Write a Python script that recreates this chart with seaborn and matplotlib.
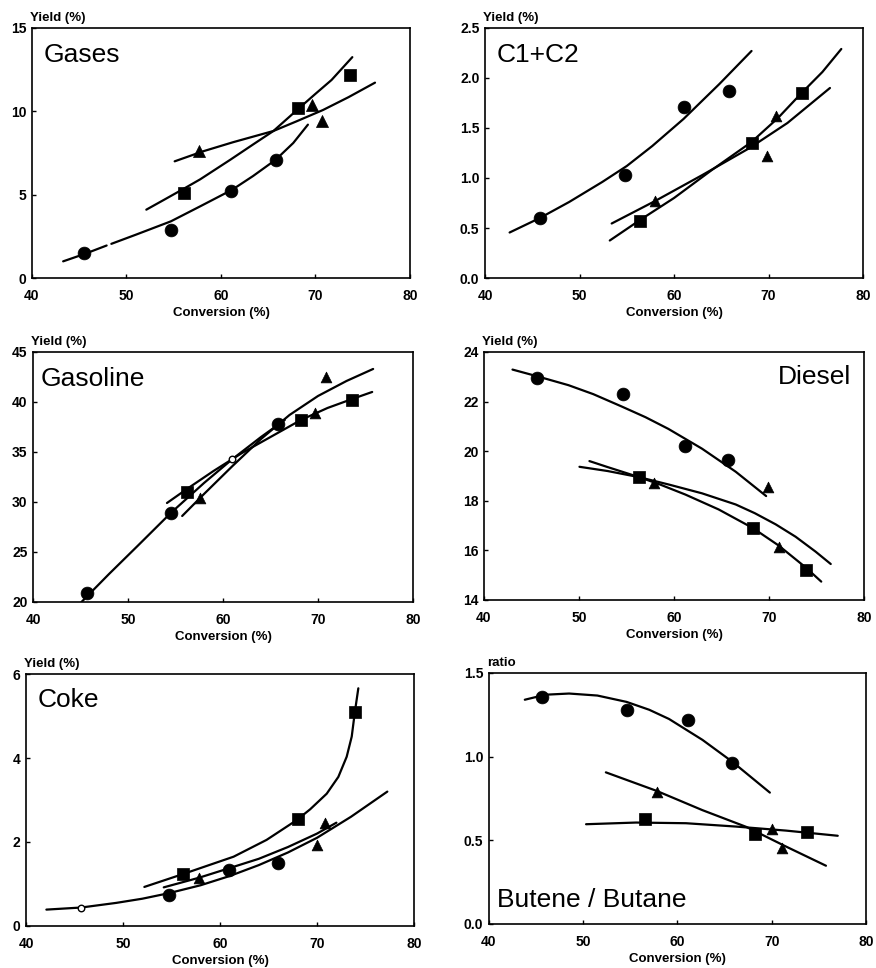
import matplotlib
matplotlib.use("Agg")
import matplotlib.pyplot as plt
import seaborn as sns

# ---------------- data ----------------
# Gases
gases_circ_x = [45.5, 54.7, 61.1, 65.8]
gases_circ_y = [1.5, 2.9, 5.2, 7.1]
gases_sq_x = [56.1, 68.2, 73.7]
gases_sq_y = [5.1, 10.2, 12.2]
gases_tri_x = [57.7, 69.6, 70.7]
gases_tri_y = [7.6, 10.4, 9.4]
gases_circ_fit_a_x = [43.3, 45.6, 47.9]
gases_circ_fit_a_y = [1.0, 1.45, 1.95]
gases_circ_fit_b_x = [48.4, 51.0, 54.7, 57.8, 61.2, 63.4, 65.8, 67.65, 69.2]
gases_circ_fit_b_y = [2.05, 2.6, 3.4, 4.3, 5.3, 6.12, 7.1, 8.1, 9.2]
gases_sq_fit_x = [52.1, 54.0, 56.2, 57.8, 61.0, 63.5, 65.55, 68.25, 70.0, 71.7, 73.9]
gases_sq_fit_y = [4.1, 4.7, 5.4, 5.92, 7.1, 8.05, 8.82, 10.18, 11.05, 11.88, 13.25]
gases_tri_fit_x = [55.1, 58.1, 61.3, 65.55, 68.0, 70.8, 73.5, 76.3]
gases_tri_fit_y = [7.0, 7.6, 8.15, 8.82, 9.4, 10.08, 10.85, 11.72]

# C1+C2
c12_circ_x = [45.8, 54.8, 61.06, 65.8]
c12_circ_y = [0.6, 1.03, 1.71, 1.87]
c12_sq_x = [56.4, 68.2, 73.5]
c12_sq_y = [0.57, 1.35, 1.85]
c12_tri_x = [58.0, 70.8, 69.8]
c12_tri_y = [0.77, 1.62, 1.22]
c12_circ_fit_x = [42.6, 45.8, 48.9, 52.4, 55.0, 57.7, 61.0, 64.8, 68.2]
c12_circ_fit_y = [0.455, 0.6, 0.76, 0.96, 1.12, 1.32, 1.59, 1.94, 2.27]
c12_sq_fit_x = [53.2, 56.4, 60.0, 64.0, 68.2, 71.0, 73.5, 75.7, 77.7]
c12_sq_fit_y = [0.375, 0.58, 0.8, 1.08, 1.36, 1.6, 1.85, 2.06, 2.29]
c12_tri_fit_x = [53.4, 58.0, 63.0, 68.0, 72.0, 76.5]
c12_tri_fit_y = [0.545, 0.77, 1.03, 1.3, 1.55, 1.9]

# Gasoline
gasol_circ_x = [45.7, 54.5, 65.8]
gasol_circ_y = [20.9, 28.9, 37.8]
gasol_open_x = [60.9]
gasol_open_y = [34.3]
gasol_sq_x = [56.2, 68.2, 73.55]
gasol_sq_y = [31.0, 38.15, 40.2]
gasol_tri_x = [57.6, 69.7, 70.8]
gasol_tri_y = [30.4, 38.9, 42.5]
gasol_circ_fit_x = [45.1, 48.0, 51.0, 54.5, 58.0, 61.0, 64.0, 66.5]
gasol_circ_fit_y = [20.0, 22.8, 25.6, 28.9, 31.9, 34.3, 36.5, 38.2]
gasol_tri_fit_x = [55.7, 58.0, 61.0, 64.0, 67.0, 70.0, 73.0, 75.8]
gasol_tri_fit_y = [28.6, 30.8, 33.6, 36.3, 38.7, 40.6, 42.1, 43.3]
gasol_sq_fit_x = [54.1, 56.2, 59.0, 62.0, 65.0, 68.2, 71.0, 73.6, 75.7]
gasol_sq_fit_y = [29.9, 31.3, 33.1, 34.9, 36.5, 38.2, 39.4, 40.3, 41.0]

# Diesel
dies_circ_x = [45.55, 54.6, 61.2, 65.66]
dies_circ_y = [22.97, 22.3, 20.2, 19.64]
dies_sq_x = [56.35, 68.3, 73.9]
dies_sq_y = [18.97, 16.89, 15.2]
dies_tri_x = [57.85, 69.9, 71.1]
dies_tri_y = [18.73, 18.56, 16.12]
dies_circ_fit_x = [43.0, 45.5, 48.9, 51.5, 54.5, 57.0, 59.4, 62.95, 66.5, 69.7]
dies_circ_fit_y = [23.29, 23.03, 22.66, 22.3, 21.8, 21.37, 20.9, 20.1, 19.17, 18.19]
dies_sq_fit_x = [51.1, 53.0, 56.35, 58.5, 61.2, 64.7, 68.3, 71.0, 73.9, 75.5]
dies_sq_fit_y = [19.6, 19.36, 18.95, 18.66, 18.25, 17.65, 16.9, 16.2, 15.3, 14.74]
dies_tri_fit_x = [50.05, 53.0, 56.35, 59.5, 62.95, 66.5, 68.5, 70.7, 72.8, 74.9, 76.5]
dies_tri_fit_y = [19.37, 19.2, 18.95, 18.65, 18.3, 17.85, 17.5, 17.05, 16.55, 15.95, 15.45]

# Coke
coke_circ_x = [54.73, 60.94, 65.99]
coke_circ_y = [0.73, 1.33, 1.49]
coke_open_x = [45.67]
coke_open_y = [0.43]
coke_sq_x = [56.14, 68.05, 73.96]
coke_sq_y = [1.23, 2.54, 5.09]
coke_tri_x = [57.85, 70.0, 70.87]
coke_tri_y = [1.15, 1.93, 2.46]
coke_sq_fit_x = [52.2, 56.1, 61.4, 64.8, 67.9, 69.3, 71.0, 72.2, 73.06, 73.58, 73.9, 74.26]
coke_sq_fit_y = [0.93, 1.23, 1.65, 2.05, 2.52, 2.78, 3.15, 3.55, 4.03, 4.51, 5.09, 5.66]
coke_circ_fit_x = [42.1, 45.7, 49.3, 52.0, 54.7, 58.0, 61.0, 64.0, 67.0, 70.0, 73.5, 77.25]
coke_circ_fit_y = [0.39, 0.44, 0.55, 0.65, 0.78, 0.97, 1.19, 1.45, 1.75, 2.1, 2.6, 3.2]
coke_tri_fit_x = [54.2, 57.85, 61.0, 64.0, 67.0, 70.0, 72.0]
coke_tri_fit_y = [0.92, 1.15, 1.38, 1.6, 1.88, 2.2, 2.46]

# Butene / Butane
bb_circ_x = [45.6, 54.6, 61.1, 65.8]
bb_circ_y = [1.357, 1.28, 1.22, 0.96]
bb_sq_x = [56.5, 68.2, 73.7]
bb_sq_y = [0.628, 0.538, 0.552]
bb_tri_x = [57.8, 70.0, 71.1]
bb_tri_y = [0.79, 0.566, 0.453]
bb_circ_fit_x = [43.8, 46.0, 48.5, 51.5, 54.6, 57.0, 59.1, 62.65, 65.8, 69.8]
bb_circ_fit_y = [1.34, 1.37, 1.377, 1.365, 1.327, 1.28, 1.225, 1.10, 0.97, 0.785]
bb_tri_fit_x = [52.4, 57.8, 62.65, 67.3, 71.5, 75.75]
bb_tri_fit_y = [0.906, 0.795, 0.68, 0.58, 0.463, 0.348]
bb_sq_fit_x = [50.3, 55.6, 60.9, 66.2, 71.5, 77.0]
bb_sq_fit_y = [0.596, 0.606, 0.602, 0.582, 0.558, 0.527]

x_ticks = [40, 50, 60, 70, 80]

# ---------------- style ----------------
sns.set_theme(style="white")
plt.rcParams["font.family"] = ["Liberation Sans", "DejaVu Sans"]
plt.rcParams["font.weight"] = "bold"
plt.rcParams["text.color"] = "black"
plt.rcParams["axes.labelcolor"] = "black"
plt.rcParams["axes.linewidth"] = 1.2

fig = plt.figure(figsize=(8.76, 9.68), dpi=100)

LW = 1.6


def line(ax, xs, ys):
    sns.lineplot(x=xs, y=ys, ax=ax, color="black", lw=LW, sort=False,
                 estimator=None, legend=False)


def pts(ax, xs, ys, marker, size):
    sns.scatterplot(x=xs, y=ys, ax=ax, marker=marker, s=size, color="black",
                    edgecolor="black", linewidth=0.5, legend=False, zorder=5)


def open_pts(ax, xs, ys):
    sns.scatterplot(x=xs, y=ys, ax=ax, marker="o", s=22, facecolor="white",
                    edgecolor="black", linewidth=1.0, legend=False, zorder=6)


def style(ax, ylim, yticks, yfmt, title, tx, ty, ha, va, ylab="Yield (%)"):
    ax.set_xlim(40, 80)
    ax.set_ylim(*ylim)
    ax.set_xticks(x_ticks)
    ax.set_yticks(yticks)
    ax.set_yticklabels([yfmt.format(v) for v in yticks])
    ax.tick_params(axis="both", direction="in", length=3, width=1.0,
                   labelsize=10, colors="black")
    ax.tick_params(axis="x", pad=8, bottom=True, top=False)
    ax.tick_params(axis="y", pad=4, left=True, right=False)
    for s in ax.spines.values():
        s.set_color("black")
        s.set_visible(True)
    ax.set_xlabel("Conversion (%)", fontsize=9.5, fontweight="bold",
                  labelpad=3, color="black")
    ax.set_ylabel("")
    ax.text(-0.005, 1.015, ylab, transform=ax.transAxes, ha="left", va="bottom",
            fontsize=9.5, fontweight="bold", color="black")
    ax.text(tx, ty, title, transform=ax.transAxes, ha=ha, va=va,
            fontsize=19, fontweight="normal", color="black")


SQ = 70
CI = 85
TR = 60

# Gases
ax1 = fig.add_axes([0.0365, 0.7128, 0.4315, 0.2583])
line(ax1, gases_circ_fit_a_x, gases_circ_fit_a_y)
line(ax1, gases_circ_fit_b_x, gases_circ_fit_b_y)
line(ax1, gases_sq_fit_x, gases_sq_fit_y)
line(ax1, gases_tri_fit_x, gases_tri_fit_y)
pts(ax1, gases_circ_x, gases_circ_y, "o", CI)
pts(ax1, gases_sq_x, gases_sq_y, "s", SQ)
pts(ax1, gases_tri_x, gases_tri_y, "^", TR * 1.25)
style(ax1, (0, 15), [0, 5, 10, 15], "{:g}", "Gases", 0.03, 0.94, "left", "top")

# C1+C2
ax2 = fig.add_axes([0.5537, 0.7128, 0.4315, 0.2583])
line(ax2, c12_circ_fit_x, c12_circ_fit_y)
line(ax2, c12_sq_fit_x, c12_sq_fit_y)
line(ax2, c12_tri_fit_x, c12_tri_fit_y)
pts(ax2, c12_circ_x, c12_circ_y, "o", CI)
pts(ax2, c12_sq_x, c12_sq_y, "s", SQ)
pts(ax2, c12_tri_x, c12_tri_y, "^", TR)
style(ax2, (0, 2.5), [0, 0.5, 1.0, 1.5, 2.0, 2.5], "{:.1f}", "C1+C2",
      0.03, 0.94, "left", "top")

# Gasoline
ax3 = fig.add_axes([0.0377, 0.3781, 0.4338, 0.2583])
line(ax3, gasol_circ_fit_x, gasol_circ_fit_y)
line(ax3, gasol_tri_fit_x, gasol_tri_fit_y)
line(ax3, gasol_sq_fit_x, gasol_sq_fit_y)
pts(ax3, gasol_circ_x, gasol_circ_y, "o", CI)
open_pts(ax3, gasol_open_x, gasol_open_y)
pts(ax3, gasol_sq_x, gasol_sq_y, "s", SQ)
pts(ax3, gasol_tri_x, gasol_tri_y, "^", TR)
style(ax3, (20, 45), [20, 25, 30, 35, 40, 45], "{:g}", "Gasoline",
      0.02, 0.94, "left", "top")

# Diesel
ax4 = fig.add_axes([0.5525, 0.3802, 0.4338, 0.2562])
line(ax4, dies_circ_fit_x, dies_circ_fit_y)
line(ax4, dies_sq_fit_x, dies_sq_fit_y)
line(ax4, dies_tri_fit_x, dies_tri_fit_y)
pts(ax4, dies_circ_x, dies_circ_y, "o", CI)
pts(ax4, dies_sq_x, dies_sq_y, "s", SQ)
pts(ax4, dies_tri_x, dies_tri_y, "^", TR)
style(ax4, (14, 24), [14, 16, 18, 20, 22, 24], "{:g}", "Diesel",
      0.966, 0.948, "right", "top")

# Coke
ax5 = fig.add_axes([0.0297, 0.0434, 0.4429, 0.2603])
line(ax5, coke_sq_fit_x, coke_sq_fit_y)
line(ax5, coke_circ_fit_x, coke_circ_fit_y)
line(ax5, coke_tri_fit_x, coke_tri_fit_y)
pts(ax5, coke_circ_x, coke_circ_y, "o", CI)
open_pts(ax5, coke_open_x, coke_open_y)
pts(ax5, coke_sq_x, coke_sq_y, "s", SQ)
pts(ax5, coke_tri_x, coke_tri_y, "^", TR)
style(ax5, (0, 6), [0, 2, 4, 6], "{:g}", "Coke", 0.03, 0.945, "left", "top")

# Butene / Butane
ax6 = fig.add_axes([0.5582, 0.0455, 0.4304, 0.2593])
line(ax6, bb_circ_fit_x, bb_circ_fit_y)
line(ax6, bb_tri_fit_x, bb_tri_fit_y)
line(ax6, bb_sq_fit_x, bb_sq_fit_y)
pts(ax6, bb_circ_x, bb_circ_y, "o", CI)
pts(ax6, bb_sq_x, bb_sq_y, "s", SQ)
pts(ax6, bb_tri_x, bb_tri_y, "^", TR)
style(ax6, (0, 1.5), [0.0, 0.5, 1.0, 1.5], "{:.1f}", "Butene / Butane",
      0.02, 0.068, "left", "baseline", ylab="ratio")

fig.savefig("out.png", dpi=100, facecolor="white")
